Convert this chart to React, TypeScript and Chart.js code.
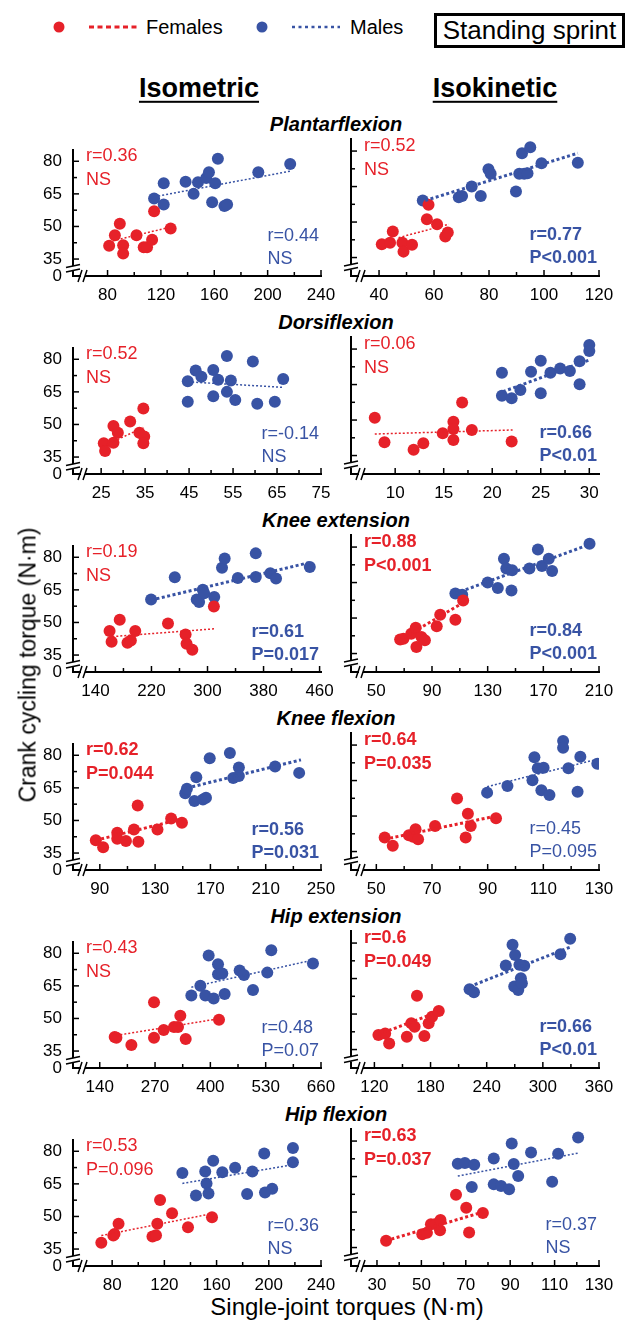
import React, { useEffect, useRef } from "react";
import { Chart, registerables } from "chart.js";

Chart.register(...registerables);

const FONT = '"Liberation Sans", Arial, Helvetica, sans-serif';
const RED = "#e62129";
const BLUE = "#3853a4";

// ---------- shared y axis ----------
const Y_MIN = 27.2; // bottom of broken axis, labelled "0"
const Y_MAX = 85.1;
const Y_LABELS = [35, 50, 65, 80];
const Y_MINOR = [42.5, 57.5, 72.5];

const ROW_TITLES = ["Plantarflexion", "Dorsiflexion", "Knee extension", "Knee flexion", "Hip extension", "Hip flexion"];
const COL_TITLES = ["Isometric", "Isokinetic"];

// ---------- Plantarflexion ----------
const pfIsoRange = [54.1, 240];
const pfIsoTicks = [80, 120, 160, 200, 240];
const pfIsoMinor = [100, 140, 180, 220];
const pfIsoFemales = [[81.2, 41.1], [85.5, 46.0], [89.2, 51.2], [91.7, 41.3], [91.7, 37.5], [101.7, 46.0], [107.1, 40.4], [109.6, 40.4], [113.4, 43.9], [114.9, 57.0], [127.3, 49.1]];
const pfIsoMales = [[114.9, 62.9], [122.1, 69.9], [122.1, 60.1], [138.5, 70.6], [144.5, 65.0], [147.8, 70.4], [154.0, 72.3], [156.0, 74.9], [160.7, 69.9], [162.7, 81.2], [158.4, 61.1], [167.6, 59.4], [169.6, 60.1], [193.0, 74.9], [216.9, 78.8]];
const pfIsoFemaleFit = [[84.0, 43.4], [127.8, 49.8]];
const pfIsoMaleFit = [[118.0, 64.0], [217.4, 75.5]];
const pfIsoFemaleStats = ["r=0.36", "NS"];
const pfIsoMaleStats = ["r=0.44", "NS"];

const pfIskRange = [29.8, 120];
const pfIskTicks = [40, 60, 80, 100, 120];
const pfIskMinor = [50, 70, 90, 110];
const pfIskFemales = [[41.0, 40.6], [44.0, 41.3], [45.0, 46.0], [48.5, 41.3], [48.9, 37.5], [52.0, 40.4], [57.4, 51.2], [58.0, 57.3], [61.1, 49.1], [64.1, 43.9], [65.0, 45.6]];
const pfIskMales = [[55.9, 59.1], [69.0, 60.5], [70.2, 61.0], [73.7, 65.0], [77.0, 61.0], [79.8, 72.3], [80.6, 70.4], [89.8, 62.9], [91.0, 70.4], [92.0, 79.1], [92.8, 70.4], [94.0, 70.6], [95.0, 81.6], [99.1, 74.9], [112.3, 75.1]];
const pfIskFemaleFit = [[47.1, 43.4], [65.4, 49.1]];
const pfIskMaleFit = [[56.8, 59.1], [112.3, 79.1]];
const pfIskFemaleStats = ["r=0.52", "NS"];
const pfIskMaleStats = ["r=0.77", "P<0.001"];

// ---------- Dorsiflexion ----------
const dfIsoRange = [18.6, 75];
const dfIsoTicks = [25, 35, 45, 55, 65, 75];
const dfIsoMinor = [30, 40, 50, 60, 70];
const dfIsoFemales = [[25.6, 41.3], [25.9, 37.8], [27.8, 49.3], [27.8, 41.6], [28.8, 46.2], [31.6, 51.4], [33.7, 46.2], [34.6, 57.4], [34.8, 44.5], [34.6, 41.3]];
const dfIsoMales = [[44.7, 69.9], [44.7, 60.4], [46.5, 74.8], [47.8, 72.0], [50.5, 75.1], [50.5, 63.0], [51.6, 70.6], [53.6, 81.5], [53.6, 65.0], [54.5, 70.2], [55.5, 61.3], [59.5, 79.0], [60.5, 59.5], [64.5, 60.4], [66.4, 70.9]];
const dfIsoFemaleFit = [[25.4, 39.9], [34.6, 48.6]];
const dfIsoMaleFit = [[45.7, 69.5], [66.4, 67.1]];
const dfIsoFemaleStats = ["r=0.52", "NS"];
const dfIsoMaleStats = ["r=-0.14", "NS"];

const dfIskRange = [5.45, 31];
const dfIskTicks = [10, 15, 20, 25, 30];
const dfIskMinor = [12.5, 17.5, 22.5, 27.5];
const dfIskFemales = [[7.9, 51.0], [8.9, 40.6], [11.9, 37.4], [12.9, 40.2], [14.9, 44.4], [16.0, 49.3], [16.0, 46.2], [16.0, 41.6], [16.9, 57.4], [17.9, 45.8], [22.0, 40.9]];
const dfIskMales = [[21.0, 70.0], [21.0, 60.3], [22.0, 59.2], [22.9, 62.7], [24.0, 70.4], [25.0, 75.1], [25.0, 61.3], [26.0, 70.0], [27.0, 71.8], [28.0, 70.7], [29.0, 74.9], [29.0, 65.1], [30.0, 81.7], [30.0, 79.2]];
const dfIskFemaleFit = [[7.9, 44.1], [22.1, 45.8]];
const dfIskMaleFit = [[21.1, 62.0], [30.0, 75.4]];
const dfIskFemaleStats = ["r=0.06", "NS"];
const dfIskMaleStats = ["r=0.66", "P<0.01"];

// ---------- Knee extension ----------
const keIsoRange = [108, 462];
const keIsoTicks = [140, 220, 300, 380, 460];
const keIsoMinor = [180, 260, 340, 420];
const keIsoFemales = [[160.2, 46.1], [163.1, 41.1], [174.7, 51.3], [185.8, 40.7], [190.6, 41.7], [196.9, 46.1], [243.6, 49.5], [268.7, 44.5], [270.1, 40.2], [278.3, 37.4], [309.1, 57.3]];
const keIsoMales = [[219.5, 60.6], [253.3, 70.8], [284.6, 60.6], [288.0, 59.4], [293.3, 65.1], [295.2, 63.4], [309.6, 61.7], [320.7, 75.2], [324.5, 79.4], [343.3, 70.5], [368.9, 81.8], [368.9, 70.9], [389.6, 72.6], [397.8, 70.2], [446.0, 75.5]];
const keIsoFemaleFit = [[164.1, 43.5], [311.1, 47.1]];
const keIsoMaleFit = [[219.5, 60.3], [446.0, 77.6]];
const keIsoFemaleStats = ["r=0.19", "NS"];
const keIsoMaleStats = ["r=0.61", "P=0.017"];

const keIskRange = [31.8, 210];
const keIskTicks = [50, 90, 130, 170, 210];
const keIskMinor = [70, 110, 150, 190];
const keIskFemales = [[67.1, 40.9], [69.5, 41.3], [75.1, 43.4], [78.3, 45.9], [78.8, 37.8], [82.4, 42.0], [84.9, 40.6], [93.4, 46.5], [95.9, 51.4], [106.8, 49.3], [112.4, 57.4]];
const keIskMales = [[106.8, 60.4], [111.7, 59.9], [130.0, 65.0], [137.3, 62.7], [141.7, 75.1], [143.4, 70.9], [147.6, 70.2], [147.1, 61.6], [160.0, 70.9], [166.1, 79.0], [169.0, 72.0], [173.9, 75.1], [176.3, 69.9], [203.2, 81.4]];
const keIskFemaleFit = [[66.6, 40.6], [112.9, 56.7]];
const keIskMaleFit = [[106.8, 60.4], [203.2, 81.1]];
const keIskFemaleStats = ["r=0.88", "P<0.001"];
const keIskMaleStats = ["r=0.84", "P<0.001"];

// ---------- Knee flexion ----------
const kfIsoRange = [70.6, 250];
const kfIsoTicks = [90, 130, 170, 210, 250];
const kfIsoMinor = [110, 150, 190, 230];
const kfIsoFemales = [[87.1, 40.9], [92.4, 37.7], [102.6, 44.4], [102.6, 41.6], [108.9, 40.6], [114.7, 45.8], [117.4, 56.9], [117.9, 40.2], [131.7, 45.8], [141.6, 50.9], [149.4, 49.0]];
const kfIsoMales = [[151.8, 62.5], [153.0, 64.6], [158.4, 59.0], [159.8, 69.9], [164.6, 59.7], [166.8, 60.4], [169.5, 78.6], [184.1, 81.1], [186.5, 69.5], [190.6, 74.4], [190.6, 70.5], [216.8, 74.8], [234.2, 71.9]];
const kfIsoFemaleFit = [[87.1, 40.9], [149.4, 50.7]];
const kfIsoMaleFit = [[153.0, 64.9], [235.5, 77.9]];
const kfIsoFemaleStats = ["r=0.62", "P=0.044"];
const kfIsoMaleStats = ["r=0.56", "P=0.031"];

const kfIskRange = [40.9, 130];
const kfIskTicks = [50, 70, 90, 110, 130];
const kfIskMinor = [60, 80, 100, 120];
const kfIskFemales = [[53.0, 40.9], [55.9, 37.4], [61.7, 41.9], [63.2, 41.2], [64.1, 44.4], [65.0, 40.2], [71.1, 45.8], [79.0, 57.4], [82.1, 40.9], [82.9, 51.0], [83.9, 45.8], [93.0, 49.1]];
const kfIskMales = [[89.8, 59.9], [97.1, 62.7], [106.1, 65.1], [106.8, 74.9], [108.0, 70.2], [109.3, 60.9], [110.1, 70.4], [112.2, 58.9], [117.1, 81.7], [117.1, 78.9], [119.0, 70.2], [122.3, 60.3], [123.3, 75.1], [129.4, 72.1]];
const kfIskFemaleFit = [[53.0, 40.2], [93.0, 50.0]];
const kfIskMaleFit = [[89.8, 62.4], [129.4, 74.0]];
const kfIskFemaleStats = ["r=0.64", "P=0.035"];
const kfIskMaleStats = ["r=0.45", "P=0.095"];

// ---------- Hip extension ----------
const heIsoRange = [77.2, 660];
const heIsoTicks = [140, 270, 400, 530, 660];
const heIsoMinor = [205, 335, 465, 595];
const heIsoFemales = [[175.2, 41.5], [179.2, 41.1], [214.4, 37.8], [267.6, 57.5], [267.6, 41.1], [290.3, 44.7], [314.6, 46.1], [324.0, 46.1], [329.4, 51.3], [342.0, 40.6], [420.3, 49.4]];
const heIsoMales = [[355.3, 60.6], [376.5, 65.1], [388.2, 60.6], [396.0, 79.0], [407.8, 59.2], [418.0, 74.9], [418.0, 70.4], [428.1, 70.7], [433.6, 61.3], [468.8, 72.1], [479.0, 70.0], [500.2, 63.1], [533.8, 71.1], [543.2, 81.4], [641.1, 75.3]];
const heIsoFemaleFit = [[179.2, 42.2], [420.3, 49.9]];
const heIsoMaleFit = [[355.3, 64.4], [641.1, 76.9]];
const heIsoFemaleStats = ["r=0.43", "NS"];
const heIsoMaleStats = ["r=0.48", "P=0.07"];

const heIskRange = [95, 360];
const heIskTicks = [120, 180, 240, 300, 360];
const heIskMinor = [150, 210, 270, 330];
const heIskFemales = [[124.3, 41.1], [131.5, 41.8], [135.8, 37.6], [154.7, 40.4], [159.4, 46.1], [163.0, 44.6], [165.5, 57.7], [173.4, 40.7], [178.0, 46.1], [181.6, 48.9], [188.8, 51.3]];
const heIskMales = [[221.7, 60.5], [226.4, 59.2], [260.4, 70.5], [267.6, 79.3], [270.4, 75.0], [269.4, 61.6], [273.7, 60.2], [276.5, 65.1], [277.6, 63.0], [280.1, 70.4], [275.0, 70.8], [318.8, 75.3], [329.2, 81.8]];
const heIskFemaleFit = [[124.3, 41.4], [188.8, 51.0]];
const heIskMaleFit = [[221.7, 61.6], [329.2, 78.3]];
const heIskFemaleStats = ["r=0.6", "P=0.049"];
const heIskMaleStats = ["r=0.66", "P<0.01"];

// ---------- Hip flexion ----------
const hfIsoRange = [50, 240];
const hfIsoTicks = [80, 120, 160, 200, 240];
const hfIsoMinor = [100, 140, 180, 220];
const hfIsoFemales = [[71.7, 37.9], [80.9, 41.2], [81.8, 41.9], [84.9, 46.6], [110.9, 40.8], [113.6, 41.3], [114.6, 46.6], [116.7, 57.6], [125.9, 51.5], [138.1, 45.0], [156.5, 49.6]];
const hfIsoMales = [[133.8, 70.0], [144.2, 59.6], [151.3, 70.7], [152.3, 65.2], [153.8, 60.6], [157.4, 75.6], [164.4, 70.3], [174.2, 72.4], [183.4, 60.3], [187.4, 70.7], [196.5, 79.0], [197.1, 61.0], [202.6, 62.8], [218.5, 81.5], [218.5, 74.9]];
const hfIsoFemaleFit = [[71.7, 41.2], [156.5, 51.3]];
const hfIsoMaleFit = [[133.8, 65.2], [218.5, 73.8]];
const hfIsoFemaleStats = ["r=0.53", "P=0.096"];
const hfIsoMaleStats = ["r=0.36", "NS"];

const hfIskRange = [18.3, 130];
const hfIskTicks = [30, 50, 70, 90, 110, 130];
const hfIskMinor = [40, 60, 80, 100, 120];
const hfIskFemales = [[34.1, 37.9], [50.4, 40.6], [52.5, 41.2], [54.3, 44.8], [56.5, 45.0], [58.4, 42.3], [58.6, 46.6], [65.6, 57.3], [70.2, 51.8], [71.5, 41.4], [77.7, 49.6]];
const hfIskMales = [[66.4, 70.4], [69.6, 70.7], [73.8, 70.0], [72.7, 60.6], [82.6, 72.6], [82.6, 61.7], [85.9, 61.0], [89.5, 59.6], [90.7, 79.0], [91.6, 70.3], [93.6, 65.2], [99.4, 75.2], [108.9, 62.8], [111.6, 74.6], [120.6, 81.5]];
const hfIskFemaleFit = [[34.1, 37.9], [77.7, 50.0]];
const hfIskMaleFit = [[66.4, 65.2], [120.6, 74.9]];
const hfIskFemaleStats = ["r=0.63", "P=0.037"];
const hfIskMaleStats = ["r=0.37", "NS"];

// ---------- layout ----------
const ROW0 = 151; // pixel y of value 80 in first row
const ROW_STEP = 198;
const CANVAS_H = 171;
const GEOM = [
  { x: 0, w: 360, axisW: 73, padRight: 39 },
  { x: 320, w: 306, axisW: 31, padRight: 27 },
];

type Panel = {
  row: number; col: number;
  range: number[]; ticks: number[]; minor: number[];
  females: number[][]; males: number[][];
  femaleFit: number[][]; maleFit: number[][];
  femaleStats: string[]; maleStats: string[];
  femaleSig: boolean; maleSig: boolean;
};

const P = (row: number, col: number, range: number[], ticks: number[], minor: number[], females: number[][], males: number[][], femaleFit: number[][], maleFit: number[][], femaleStats: string[], maleStats: string[], femaleSig: boolean, maleSig: boolean): Panel =>
  ({ row, col, range, ticks, minor, females, males, femaleFit, maleFit, femaleStats, maleStats, femaleSig, maleSig });

const PANELS: Panel[] = [
  P(0, 0, pfIsoRange, pfIsoTicks, pfIsoMinor, pfIsoFemales, pfIsoMales, pfIsoFemaleFit, pfIsoMaleFit, pfIsoFemaleStats, pfIsoMaleStats, false, false),
  P(0, 1, pfIskRange, pfIskTicks, pfIskMinor, pfIskFemales, pfIskMales, pfIskFemaleFit, pfIskMaleFit, pfIskFemaleStats, pfIskMaleStats, false, true),
  P(1, 0, dfIsoRange, dfIsoTicks, dfIsoMinor, dfIsoFemales, dfIsoMales, dfIsoFemaleFit, dfIsoMaleFit, dfIsoFemaleStats, dfIsoMaleStats, false, false),
  P(1, 1, dfIskRange, dfIskTicks, dfIskMinor, dfIskFemales, dfIskMales, dfIskFemaleFit, dfIskMaleFit, dfIskFemaleStats, dfIskMaleStats, false, true),
  P(2, 0, keIsoRange, keIsoTicks, keIsoMinor, keIsoFemales, keIsoMales, keIsoFemaleFit, keIsoMaleFit, keIsoFemaleStats, keIsoMaleStats, false, true),
  P(2, 1, keIskRange, keIskTicks, keIskMinor, keIskFemales, keIskMales, keIskFemaleFit, keIskMaleFit, keIskFemaleStats, keIskMaleStats, true, true),
  P(3, 0, kfIsoRange, kfIsoTicks, kfIsoMinor, kfIsoFemales, kfIsoMales, kfIsoFemaleFit, kfIsoMaleFit, kfIsoFemaleStats, kfIsoMaleStats, true, true),
  P(3, 1, kfIskRange, kfIskTicks, kfIskMinor, kfIskFemales, kfIskMales, kfIskFemaleFit, kfIskMaleFit, kfIskFemaleStats, kfIskMaleStats, true, false),
  P(4, 0, heIsoRange, heIsoTicks, heIsoMinor, heIsoFemales, heIsoMales, heIsoFemaleFit, heIsoMaleFit, heIsoFemaleStats, heIsoMaleStats, false, false),
  P(4, 1, heIskRange, heIskTicks, heIskMinor, heIskFemales, heIskMales, heIskFemaleFit, heIskMaleFit, heIskFemaleStats, heIskMaleStats, true, true),
  P(5, 0, hfIsoRange, hfIsoTicks, hfIsoMinor, hfIsoFemales, hfIsoMales, hfIsoFemaleFit, hfIsoMaleFit, hfIsoFemaleStats, hfIsoMaleStats, false, false),
  P(5, 1, hfIskRange, hfIskTicks, hfIskMinor, hfIskFemales, hfIskMales, hfIskFemaleFit, hfIskMaleFit, hfIskFemaleStats, hfIskMaleStats, true, false),
];

const toXY = (arr: number[][]) => arr.map(([x, y]) => ({ x, y }));

function decorPlugin(p: Panel) {
  return {
    id: "panelDecor",
    afterDraw(chart: any) {
      const { ctx, chartArea: a } = chart;
      const xs = chart.scales.x;
      const ys = chart.scales.y;
      const seg = (x1: number, y1: number, x2: number, y2: number) => {
        ctx.beginPath(); ctx.moveTo(x1, y1); ctx.lineTo(x2, y2); ctx.stroke();
      };
      ctx.save();
      ctx.strokeStyle = "#000";
      ctx.lineWidth = 1.5;
      for (const v of Y_LABELS) { const py = ys.getPixelForValue(v); seg(a.left, py, a.left + 6, py); }
      for (const v of Y_MINOR) { const py = ys.getPixelForValue(v); seg(a.left, py, a.left + 4, py); }
      for (const v of p.ticks) { const px = xs.getPixelForValue(v); seg(px, a.bottom, px, a.bottom - 6); }
      for (const v of p.minor) { const px = xs.getPixelForValue(v); seg(px, a.bottom, px, a.bottom - 4); }
      // y-axis break
      const yb = ys.getPixelForValue(35) + 9;
      ctx.fillStyle = "#fff";
      ctx.fillRect(a.left - 2, yb - 2, 4, 5);
      seg(a.left - 7, yb - 0.5, a.left + 7, yb - 3.5);
      seg(a.left - 7, yb + 4, a.left + 7, yb + 1);
      // x-axis break
      const xb = a.left + 11;
      ctx.fillRect(xb - 3, a.bottom - 2, 4, 4);
      seg(xb - 6, a.bottom + 6, xb - 2, a.bottom - 6);
      seg(xb - 1, a.bottom + 6, xb + 3, a.bottom - 6);
      // statistics
      ctx.textBaseline = "middle";
      ctx.textAlign = "left";
      const y80 = ys.getPixelForValue(80);
      const y35 = ys.getPixelForValue(35);
      ctx.font = `${p.femaleSig ? "bold " : ""}18px ${FONT}`;
      ctx.fillStyle = RED;
      ctx.fillText(p.femaleStats[0], a.left + 13, y80 - 5);
      ctx.fillText(p.femaleStats[1], a.left + 13, y80 + 19);
      ctx.font = `${p.maleSig ? "bold " : ""}18px ${FONT}`;
      ctx.fillStyle = BLUE;
      const w = Math.max(...p.maleStats.map((s) => ctx.measureText(s).width));
      const bx = a.right - 2 - w;
      ctx.fillText(p.maleStats[0], bx, y35 - 23);
      ctx.fillText(p.maleStats[1], bx, y35);
      ctx.restore();
    },
  };
}

function PanelChart({ p }: { p: Panel }) {
  const ref = useRef<HTMLCanvasElement>(null);
  const g = GEOM[p.col];
  useEffect(() => {
    const fitLine = (data: number[][], color: string, sig: boolean) => ({
      type: "scatter",
      data: toXY(data),
      showLine: true,
      borderColor: color,
      borderWidth: sig ? 3 : 1.5,
      borderDash: sig ? [3, 2.5] : [2, 2],
      pointRadius: 0,
      fill: false,
      order: 0,
    });
    const chart = new Chart(ref.current as HTMLCanvasElement, {
      type: "scatter",
      data: {
        datasets: [
          fitLine(p.femaleFit, RED, p.femaleSig),
          fitLine(p.maleFit, BLUE, p.maleSig),
          { data: toXY(p.females), backgroundColor: RED, borderWidth: 0, pointRadius: 6, order: 1 },
          { data: toXY(p.males), backgroundColor: BLUE, borderWidth: 0, pointRadius: 6, order: 2 },
        ] as any,
      },
      options: {
        animation: false,
        responsive: false,
        devicePixelRatio: 1,
        events: [],
        layout: { padding: { top: 10, right: g.padRight, left: 0, bottom: 0 } },
        plugins: { legend: { display: false }, tooltip: { enabled: false } },
        scales: {
          x: {
            type: "linear",
            position: "bottom",
            min: p.range[0],
            max: p.range[1],
            grid: { display: true, drawOnChartArea: false, drawTicks: false },
            border: { display: true, color: "#000", width: 2 },
            ticks: {
              autoSkip: false, maxRotation: 0, padding: 9, color: "#000",
              font: { family: FONT, size: 17 },
              callback: (v: any) => (p.ticks.includes(v) ? String(v) : ""),
            },
            afterBuildTicks: (s: any) => { s.ticks = p.ticks.map((v) => ({ value: v })); },
            afterFit: (s: any) => { s.height = 24; },
          },
          y: {
            type: "linear",
            position: "left",
            min: Y_MIN,
            max: Y_MAX,
            grid: { display: true, drawOnChartArea: false, drawTicks: false },
            border: { display: true, color: "#000", width: 2 },
            ticks: {
              display: p.col === 0, autoSkip: false, padding: 11, color: "#000",
              font: { family: FONT, size: 17 },
              callback: (v: any) => (v === Y_MIN ? "0" : Y_LABELS.includes(v) ? String(v) : ""),
            },
            afterBuildTicks: (s: any) => { s.ticks = [Y_MIN, ...Y_LABELS].map((v) => ({ value: v })); },
            afterFit: (s: any) => { s.width = g.axisW; },
          },
        },
      } as any,
      plugins: [decorPlugin(p)],
    });
    return () => chart.destroy();
  }, [p]);
  const top = ROW0 + p.row * ROW_STEP - 22;
  return (
    <canvas
      ref={ref}
      width={g.w}
      height={CANVAS_H}
      style={{ position: "absolute", left: g.x, top, width: g.w, height: CANVAS_H }}
    />
  );
}

const centered = (x: number, y: number): React.CSSProperties => ({
  position: "absolute", left: x, top: y, transform: "translate(-50%, -50%)", whiteSpace: "nowrap", lineHeight: 1,
});

export default function App() {
  return (
    <div style={{ position: "absolute", left: 0, top: 0, width: 626, height: 1329, background: "#fff", fontFamily: FONT, color: "#000", overflow: "hidden" }}>
      <svg width={626} height={60} style={{ position: "absolute", left: 0, top: 0 }}>
        <circle cx={59} cy={27} r={5.5} fill={RED} />
        <line x1={89} y1={27} x2={140} y2={27} stroke={RED} strokeWidth={3} strokeDasharray="5 3.5" />
        <circle cx={262} cy={27} r={5.5} fill={BLUE} />
        <line x1={292} y1={27} x2={340} y2={27} stroke={BLUE} strokeWidth={2.5} strokeDasharray="3 3.5" />
      </svg>
      <div style={{ position: "absolute", left: 146, top: 27, transform: "translateY(-50%)", fontSize: 20, lineHeight: 1 }}>Females</div>
      <div style={{ position: "absolute", left: 350, top: 27, transform: "translateY(-50%)", fontSize: 20, lineHeight: 1 }}>Males</div>
      <div style={{ position: "absolute", left: 434, top: 13, width: 185, height: 29, border: "3px solid #000", fontSize: 26, lineHeight: "29px", textAlign: "center", whiteSpace: "nowrap" }}>Standing sprint</div>
      {COL_TITLES.map((t, i) => (
        <div key={t} style={{ ...centered(i === 0 ? 199 : 495, 88), fontSize: 27, fontWeight: "bold", textDecoration: "underline", textDecorationThickness: "2px", textUnderlineOffset: "4px", lineHeight: 1.2 }}>{t}</div>
      ))}
      {ROW_TITLES.map((t, r) => (
        <div key={t} style={{ ...centered(336, ROW0 + r * ROW_STEP - 27), fontSize: 20, fontWeight: "bold", fontStyle: "italic" }}>{t}</div>
      ))}
      {PANELS.map((p, i) => <PanelChart key={i} p={p} />)}
      <div style={{ ...centered(28, 665), fontSize: 23, transform: "translate(-50%, -50%) rotate(-90deg)" }}>Crank cycling torque (N·m)</div>
      <div style={{ ...centered(347, 1307), fontSize: 24 }}>Single-joint torques (N·m)</div>
    </div>
  );
}
